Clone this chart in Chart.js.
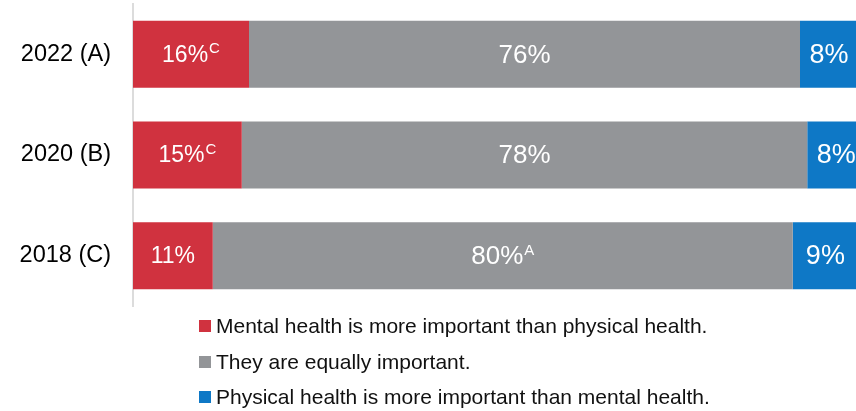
<!DOCTYPE html>
<html>
<head>
<meta charset="utf-8">
<script src="https://cdn.jsdelivr.net/npm/chart.js@4/dist/chart.umd.min.js"></script>
<style>
  html, body { margin:0; padding:0; background:#fff; overflow:hidden; width:856px; height:411px; }
  #c { position:absolute; left:0; top:0; }
  #legend { position:absolute; left:199px; top:0; font-family:"Liberation Sans", Arial, sans-serif; font-size:21px; color:#111; }
  .item { position:absolute; left:0; white-space:nowrap; height:24px; line-height:24px; }
  .sw { position:absolute; left:0; top:6px; width:12px; height:12px; }
  .tx { position:absolute; left:17px; top:0; }
</style>
</head>
<body>
<canvas id="c" width="880" height="411"></canvas>
<div id="legend"></div>
<script>
const categories = ['2022 (A)', '2020 (B)', '2018 (C)'];
const seriesNames = [
  'Mental health is more important than physical health.',
  'They are equally important.',
  'Physical health is more important than mental health.'
];
const mentalValues = [16, 15, 11];
const equalValues = [76, 78, 80];
const physicalValues = [8, 8, 9];
const mentalSup = ['C', 'C', ''];
const equalSup = ['', '', 'A'];
const physicalSup = ['', '', ''];
const colors = ['#D0323F', '#939598', '#0E78C6'];

const valueSets = [mentalValues, equalValues, physicalValues];
const supSets = [mentalSup, equalSup, physicalSup];
const labelSizes = [23, 26, 27];

const labelPlugin = {
  id: 'segLabels',
  afterDatasetsDraw(chart) {
    const ctx = chart.ctx;
    chart.data.datasets.forEach((ds, di) => {
      const meta = chart.getDatasetMeta(di);
      const size = labelSizes[di];
      meta.data.forEach((bar, i) => {
        const main = valueSets[di][i] + '%';
        const sup = supSets[di][i];
        ctx.save();
        ctx.fillStyle = '#ffffff';
        ctx.textBaseline = 'middle';
        ctx.textAlign = 'left';
        ctx.font = size + 'px "Liberation Sans", Arial, sans-serif';
        const wMain = ctx.measureText(main).width;
        ctx.font = '15px "Liberation Sans", Arial, sans-serif';
        const wSup = sup ? ctx.measureText(sup).width + 1 : 0;
        const cx = (bar.x + bar.base) / 2;
        const start = cx - (wMain + wSup) / 2;
        ctx.font = size + 'px "Liberation Sans", Arial, sans-serif';
        ctx.fillText(main, start, bar.y + 1);
        if (sup) {
          ctx.font = '15px "Liberation Sans", Arial, sans-serif';
          ctx.fillText(sup, start + wMain + 1, bar.y - 5);
        }
        ctx.restore();
      });
    });
  }
};

new Chart(document.getElementById('c'), {
  type: 'bar',
  data: {
    labels: categories,
    datasets: valueSets.map((v, i) => ({
      label: seriesNames[i],
      data: v,
      backgroundColor: colors[i],
      borderWidth: 0,
      barPercentage: 0.666,
      categoryPercentage: 1
    }))
  },
  options: {
    indexAxis: 'y',
    responsive: false,
    maintainAspectRatio: false,
    animation: false,
    layout: { padding: { top: 4, bottom: 105, left: 0, right: 22 } },
    plugins: { legend: { display: false }, tooltip: { enabled: false } },
    scales: {
      x: { stacked: true, min: 0, max: 100, display: false },
      y: {
        stacked: true,
        grid: { display: false, drawTicks: false },
        border: { display: true, color: '#dcdcdc', width: 2 },
        ticks: { color: '#000', padding: 22, font: { family: '"Liberation Sans", Arial, sans-serif', size: 23.5 } },
        afterFit(scale) { scale.width = 133; scale.paddingTop = 0; scale.paddingBottom = 0; }
      }
    }
  },
  plugins: [labelPlugin]
});

const leg = document.getElementById('legend');
const rowCenters = [326, 361.5, 397];
seriesNames.forEach((n, i) => {
  const d = document.createElement('div');
  d.className = 'item';
  d.style.top = (rowCenters[i] - 12) + 'px';
  d.innerHTML = '<span class="sw" style="background:' + colors[i] + '"></span><span class="tx"></span>';
  d.querySelector('.tx').textContent = n;
  leg.appendChild(d);
});
</script>
</body>
</html>
